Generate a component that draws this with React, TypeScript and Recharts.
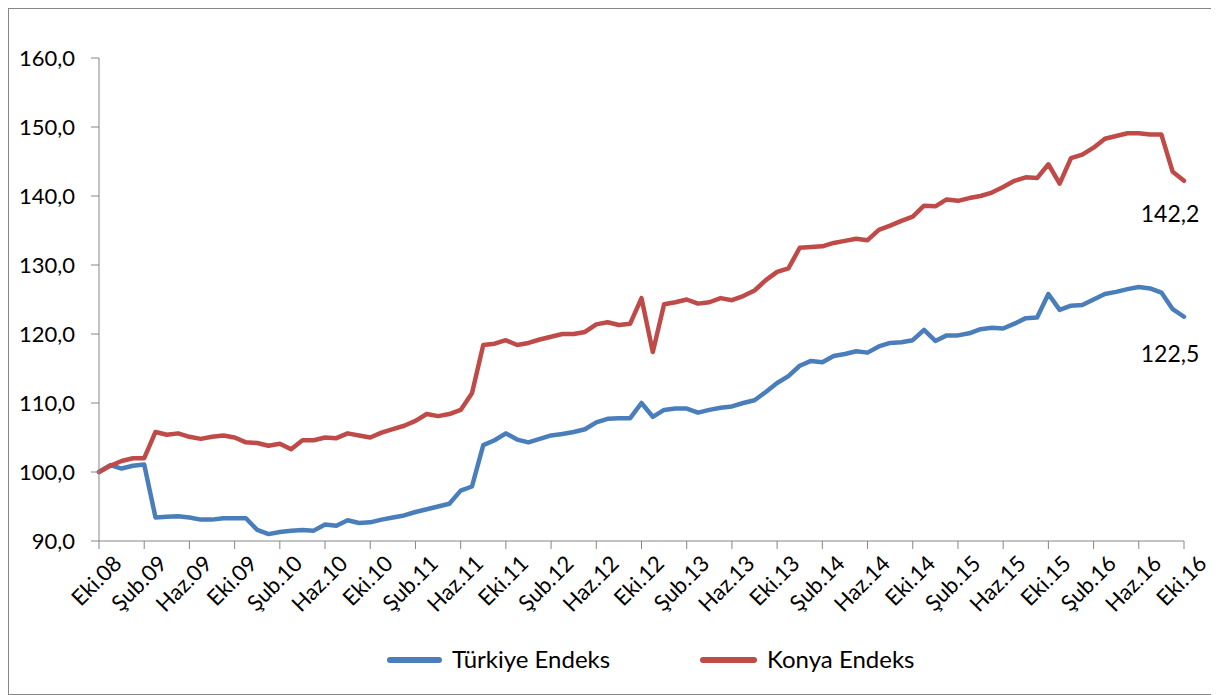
import React from 'react';
import { LineChart, Line, XAxis, YAxis, Legend, LabelList } from 'recharts';

const FONT = 'Lato, "Open Sans", sans-serif';

const monthNames = ['Oca', 'Şub', 'Mar', 'Nis', 'May', 'Haz', 'Tem', 'Ağu', 'Eyl', 'Eki', 'Kas', 'Ara'];
const categories: string[] = [];
for (let i = 0; i <= 96; i++) {
  const m = (9 + i) % 12;
  const y = 8 + Math.floor((9 + i) / 12);
  categories.push(`${monthNames[m]}.${String(y).padStart(2, '0')}`);
}

const turkiye = [
  100.0, 101.0, 100.5, 100.9, 101.1, 93.4, 93.5, 93.6, 93.4, 93.1, 93.1, 93.3, 93.3,
  93.3, 91.6, 91.0, 91.3, 91.5, 91.6, 91.5, 92.4, 92.2, 93.0, 92.6, 92.7,
  93.1, 93.4, 93.7, 94.2, 94.6, 95.0, 95.4, 97.3, 97.9, 103.9, 104.6, 105.6,
  104.7, 104.3, 104.8, 105.3, 105.5, 105.8, 106.2, 107.2, 107.7, 107.8, 107.8, 110.0,
  108.0, 109.0, 109.2, 109.2, 108.6, 109.0, 109.3, 109.5, 110.0, 110.4, 111.6, 112.9,
  113.9, 115.4, 116.1, 115.9, 116.8, 117.1, 117.5, 117.3, 118.2, 118.7, 118.8, 119.1,
  120.6, 119.0, 119.8, 119.8, 120.1, 120.7, 120.9, 120.8, 121.5, 122.3, 122.4, 125.8,
  123.5, 124.1, 124.2, 125.0, 125.8, 126.1, 126.5, 126.8, 126.6, 126.0, 123.6, 122.5,
];

const konya = [
  100.0, 100.9, 101.6, 102.0, 102.0, 105.8, 105.4, 105.6, 105.1, 104.8, 105.1, 105.3, 105.0,
  104.3, 104.2, 103.8, 104.1, 103.3, 104.6, 104.6, 105.0, 104.9, 105.6, 105.3, 105.0,
  105.7, 106.2, 106.7, 107.4, 108.4, 108.1, 108.4, 109.0, 111.4, 118.4, 118.6, 119.1,
  118.4, 118.7, 119.2, 119.6, 120.0, 120.0, 120.3, 121.4, 121.7, 121.3, 121.5, 125.2,
  117.4, 124.3, 124.6, 125.0, 124.4, 124.6, 125.2, 124.9, 125.5, 126.3, 127.8, 129.0,
  129.5, 132.5, 132.6, 132.7, 133.2, 133.5, 133.8, 133.6, 135.1, 135.7, 136.4, 137.0,
  138.6, 138.5, 139.5, 139.3, 139.7, 140.0, 140.5, 141.3, 142.2, 142.7, 142.6, 144.6,
  141.8, 145.5, 146.0, 147.0, 148.3, 148.7, 149.1, 149.1, 148.9, 148.9, 143.5, 142.2,
];

const yTicks = [90, 100, 110, 120, 130, 140, 150, 160];

const seriesNames = { turkiye: 'Türkiye Endeks', konya: 'Konya Endeks' };
const colors = { turkiye: '#4A7EBB', konya: '#BE4B48' };

const data = categories.map((c, i) => ({ month: c, turkiye: turkiye[i], konya: konya[i] }));

const fmt = (v: number) => v.toFixed(1).replace('.', ',');

const XTick = (props: any) => {
  const { x, y, payload } = props;
  const ax = x + 24;
  const ay = y + 14;
  return (
    <text x={ax} y={ay} textAnchor="end" transform={`rotate(-45, ${ax}, ${ay})`}
      fontSize={22} fontFamily={FONT} fill="#000">
      {payload.value}
    </text>
  );
};

const lastLabel = (dy: number) => (props: any) => {
  const { x, y, index, value } = props;
  if (index !== categories.length - 1) return null;
  return (
    <text x={x - 14} y={y + dy} textAnchor="middle" dominantBaseline="central"
      fontSize={23} fontFamily={FONT} fill="#000">
      {fmt(Number(value))}
    </text>
  );
};

const LegendContent = () => (
  <div style={{ position: 'relative', width: 1209, height: 40, fontFamily: FONT, fontSize: 24, color: '#000' }}>
    <div style={{ position: 'absolute', left: 378, top: 17, width: 55, height: 6, borderRadius: 3, background: colors.turkiye }} />
    <div style={{ position: 'absolute', left: 443, top: 3, lineHeight: '32px' }}>{seriesNames.turkiye}</div>
    <div style={{ position: 'absolute', left: 691, top: 17, width: 57, height: 6, borderRadius: 3, background: colors.konya }} />
    <div style={{ position: 'absolute', left: 758, top: 3, lineHeight: '32px' }}>{seriesNames.konya}</div>
  </div>
);

export default function App() {
  return (
    <div style={{ width: 1209, height: 685, border: '1px solid #868686', background: '#fff' }}>
      <LineChart width={1209} height={685} data={data}
        margin={{ top: 49, right: 34, bottom: 14, left: 0 }}>
        <XAxis dataKey="month" interval={3} tick={<XTick />} height={99}
          tickSize={8} tickMargin={2}
          axisLine={{ stroke: '#868686' }} tickLine={{ stroke: '#868686' }} padding={{ left: 0, right: 0 }} />
        <YAxis domain={[90, 160]} ticks={yTicks} width={90} tickFormatter={fmt}
          tickSize={8} tickMargin={16}
          tick={{ fontSize: 22, fill: '#000', fontFamily: FONT }}
          axisLine={{ stroke: '#868686' }} tickLine={{ stroke: '#868686' }} />
        <Legend verticalAlign="bottom" height={40} content={<LegendContent />} />
        <Line type="linear" dataKey="turkiye" name={seriesNames.turkiye} stroke={colors.turkiye}
          strokeWidth={4.5} dot={false} isAnimationActive={false} strokeLinejoin="round" strokeLinecap="round">
          <LabelList dataKey="turkiye" content={lastLabel(36)} />
        </Line>
        <Line type="linear" dataKey="konya" name={seriesNames.konya} stroke={colors.konya}
          strokeWidth={4.5} dot={false} isAnimationActive={false} strokeLinejoin="round" strokeLinecap="round">
          <LabelList dataKey="konya" content={lastLabel(32)} />
        </Line>
      </LineChart>
    </div>
  );
}
